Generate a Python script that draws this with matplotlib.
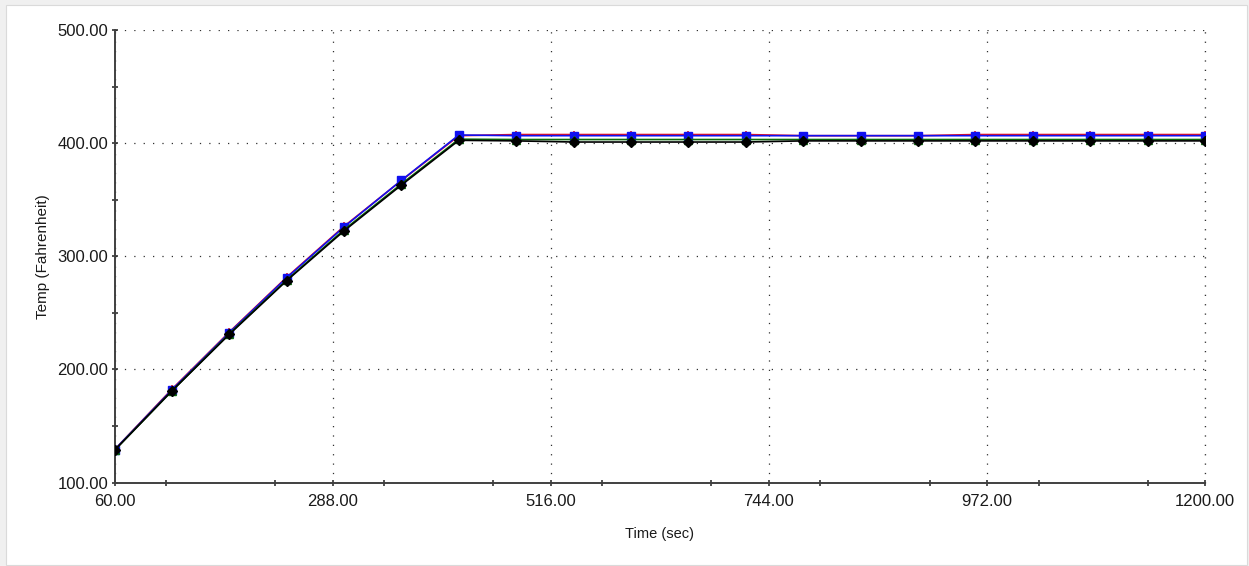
import matplotlib
matplotlib.use("Agg")
import matplotlib.pyplot as plt
from matplotlib.patches import Rectangle
from matplotlib.ticker import MultipleLocator, FixedLocator, FormatStrFormatter

plt.rcParams['font.family'] = ['Liberation Sans', 'DejaVu Sans']

time_sec = [60, 120, 180, 240, 300, 360, 420, 480, 540, 600, 660, 720,
            780, 840, 900, 960, 1020, 1080, 1140, 1200]

temp_red = [129.0, 182.5, 233.0, 281.5, 326.5, 367.0, 406.6, 407.6, 407.6, 407.6,
            407.6, 407.6, 406.6, 406.6, 406.6, 407.6, 407.6, 407.6, 407.6, 407.6]
temp_blue = [129.0, 182.0, 232.5, 281.0, 326.0, 367.2, 407.2, 406.6, 406.6, 406.6,
             406.6, 406.6, 406.6, 406.6, 406.6, 406.6, 406.6, 406.6, 406.6, 406.6]
temp_green = [128.5, 181.0, 231.5, 279.0, 323.5, 364.0, 403.5, 403.2, 403.2, 403.2,
              403.2, 403.2, 403.2, 403.2, 403.2, 403.2, 403.2, 403.2, 403.2, 403.2]
temp_black = [128.5, 181.0, 231.0, 278.5, 322.5, 363.0, 402.5, 402.0, 401.0, 401.0,
              401.0, 401.0, 402.0, 402.0, 402.0, 402.0, 402.0, 402.0, 402.0, 402.0]

x_ticks = [60, 288, 516, 744, 972, 1200]
y_ticks = [100, 200, 300, 400, 500]

W, H = 1249, 566
fig = plt.figure(figsize=(W / 100, H / 100), dpi=100)
fig.patch.set_facecolor('#f0f0f0')
bg = Rectangle((6 / W, 1 / H), (1241 / W), (560 / H), transform=fig.transFigure,
               facecolor='white', edgecolor='#dadada', linewidth=0.8, zorder=-10)
fig.add_artist(bg)

ax = fig.add_axes([114.5 / W, (H - 482.6) / H, (1205 - 114.5) / W, (482.6 - 30) / H])
ax.set_zorder(1)
ax.set_facecolor('none')

lw = 1.2
ax.plot(time_sec, temp_red, color='#e8101e', lw=lw, marker='+', ms=6, mew=1.2, zorder=3)
ax.plot(time_sec, temp_blue, color='#1010f0', lw=lw, marker='s', ms=5.5, zorder=4)
ax.plot(time_sec, temp_green, color='#0a6a0a', lw=lw, marker='^', ms=5.5, zorder=5)
ax.plot(time_sec, temp_black, color='#000000', lw=lw, marker='D', ms=5, zorder=6)

ax.set_xlim(60, 1200)
ax.set_ylim(100, 500)
ax.xaxis.set_major_locator(FixedLocator(x_ticks))
ax.xaxis.set_minor_locator(MultipleLocator(114))
ax.yaxis.set_major_locator(FixedLocator(y_ticks))
ax.yaxis.set_minor_locator(MultipleLocator(50))
ax.xaxis.set_major_formatter(FormatStrFormatter('%.2f'))
ax.yaxis.set_major_formatter(FormatStrFormatter('%.2f'))

for s in ['top', 'right']:
    ax.spines[s].set_visible(False)
for s in ['left', 'bottom']:
    ax.spines[s].set_color('#404040')
    ax.spines[s].set_linewidth(1.4)

ax.tick_params(which='both', direction='inout', length=5, width=1.1, color='#202020',
               labelsize=12, labelcolor='#1a1a1a', pad=2)
ax.tick_params(axis='x', which='major', pad=6)

ax.grid(True, which='major', color='#303030', linestyle=(0, (1, 6.5)), linewidth=0.9)
ax.axvline(1200, color='#303030', linestyle=(0, (1, 6.5)), linewidth=0.9, clip_on=False)

ax.set_xlabel('Time (sec)', fontsize=10.5, color='#1a1a1a', labelpad=13)
ax.set_ylabel('Temp (Fahrenheit)', fontsize=11, color='#1a1a1a', labelpad=5)

fig.savefig('out.png', dpi=100, facecolor=fig.get_facecolor())
